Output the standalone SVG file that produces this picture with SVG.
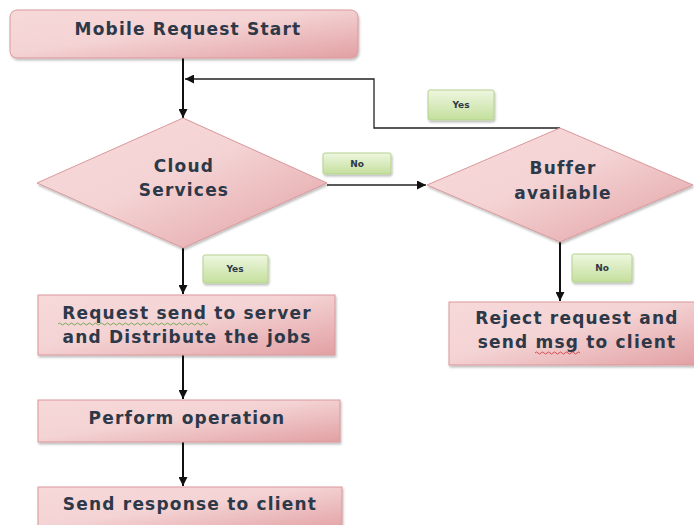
<svg xmlns="http://www.w3.org/2000/svg" width="694" height="525" viewBox="0 0 694 525">
<defs>
<linearGradient id="pink" x1="0" y1="0" x2="1" y2="1">
<stop offset="0" stop-color="#f7d9da"/>
<stop offset="0.45" stop-color="#f4d3d4"/>
<stop offset="1" stop-color="#e2a0a3"/>
</linearGradient>
<linearGradient id="green" x1="0" y1="0" x2="0" y2="1">
<stop offset="0" stop-color="#eef7e0"/>
<stop offset="1" stop-color="#c4df9d"/>
</linearGradient>
<filter id="sh" x="-10%" y="-10%" width="120%" height="130%">
<feDropShadow dx="1" dy="2" stdDeviation="1.2" flood-color="#000" flood-opacity="0.25"/>
</filter>
<marker id="ah" viewBox="0 0 10 10" refX="10" refY="5" markerWidth="9" markerHeight="9" markerUnits="userSpaceOnUse" orient="auto">
<path d="M0,0 L10,5 L0,10 z" fill="#111"/>
</marker>
</defs>
<style>
.box{fill:url(#pink);stroke:#d9989b;stroke-width:1;filter:url(#sh)}
.lab{fill:url(#green);stroke:#b5d28f;stroke-width:1;filter:url(#sh)}
.t{font-family:"DejaVu Sans","Liberation Sans",sans-serif;font-weight:700;fill:#2d3848;text-anchor:middle}
.big{font-size:17px;letter-spacing:1.2px}
.sm{font-size:9px}
.ln{stroke:#111;stroke-width:2;fill:none}
.ln1{stroke:#222;stroke-width:1.3;fill:none}
.sq{fill:none;stroke-width:0.8}
</style>
<rect width="694" height="525" fill="#fff"/>
<g id="connectors">
<line class="ln" x1="183" y1="58" x2="183" y2="118" marker-end="url(#ah)"/>
<polyline class="ln1" points="560,128 374,128 374,79 185,79" marker-end="url(#ah)"/>
<line class="ln1" x1="327" y1="185" x2="426" y2="185" marker-end="url(#ah)"/>
<line class="ln" x1="183" y1="248" x2="183" y2="294" marker-end="url(#ah)"/>
<line class="ln" x1="183" y1="355" x2="183" y2="399" marker-end="url(#ah)"/>
<line class="ln" x1="183" y1="442" x2="183" y2="486" marker-end="url(#ah)"/>
<line class="ln" x1="560" y1="242" x2="560" y2="301" marker-end="url(#ah)"/>
</g>
<g id="start">
<rect class="box" x="10" y="10" width="348" height="48" rx="7"/>
<text class="t big" x="188" y="35">Mobile Request Start</text>
</g>
<g id="cloud">
<polygon class="box" points="183,118 327,183 183,248 37,183"/>
<text class="t big" x="184" y="172">Cloud</text>
<text class="t big" x="184" y="196">Services</text>
</g>
<g id="buffer">
<polygon class="box" points="560,128 693,185 560,242 427,185"/>
<text class="t big" x="563" y="174">Buffer</text>
<text class="t big" x="563" y="199">available</text>
</g>
<g id="request">
<rect class="box" x="38" y="295" width="297" height="60"/>
<text class="t big" x="187" y="319">Request send to server</text>
<text class="t big" x="187" y="343">and Distribute the jobs</text>
<path class="sq" stroke="#5a9e3a" d="M58,324 q1.5,-2 3,0 t3,0 t3,0 t3,0 t3,0 t3,0 t3,0 t3,0 t3,0 t3,0 t3,0 t3,0 t3,0 t3,0 t3,0 t3,0 t3,0 t3,0 t3,0 t3,0 t3,0 t3,0 t3,0 t3,0 t3,0 t3,0 t3,0 t3,0 t3,0 t3,0 t3,0 t3,0 t3,0 t3,0 t3,0 t3,0 t3,0 t3,0 t3,0 t3,0 t3,0 t3,0 t3,0 t3,0 t3,0 t3,0 t3,0 t3,0 t3,0 t3,0"/>
</g>
<g id="perform">
<rect class="box" x="38" y="400" width="302" height="42"/>
<text class="t big" x="187" y="424">Perform operation</text>
</g>
<g id="respond">
<rect class="box" x="38" y="487" width="304" height="45"/>
<text class="t big" x="190" y="510">Send response to client</text>
</g>
<g id="reject">
<rect class="box" x="449" y="302" width="250" height="63"/>
<text class="t big" x="577" y="324">Reject request and</text>
<text class="t big" x="577" y="348">send msg to client</text>
<path class="sq" stroke="#d03030" d="M535,353 q1.5,-2 3,0 t3,0 t3,0 t3,0 t3,0 t3,0 t3,0 t3,0 t3,0 t3,0 t3,0 t3,0 t3,0 t3,0 t3,0"/>
</g>
<g id="lbl-yes-top">
<rect class="lab" x="428" y="90" width="66" height="30" rx="2"/>
<text class="t sm" x="461" y="108">Yes</text>
</g>
<g id="lbl-no-right">
<rect class="lab" x="323" y="153" width="68" height="21" rx="2"/>
<text class="t sm" x="357" y="167">No</text>
</g>
<g id="lbl-yes-bottom">
<rect class="lab" x="203" y="255" width="65" height="28" rx="2"/>
<text class="t sm" x="235" y="272">Yes</text>
</g>
<g id="lbl-no-bottom">
<rect class="lab" x="572" y="254" width="60" height="28" rx="2"/>
<text class="t sm" x="602" y="271">No</text>
</g>
</svg>
